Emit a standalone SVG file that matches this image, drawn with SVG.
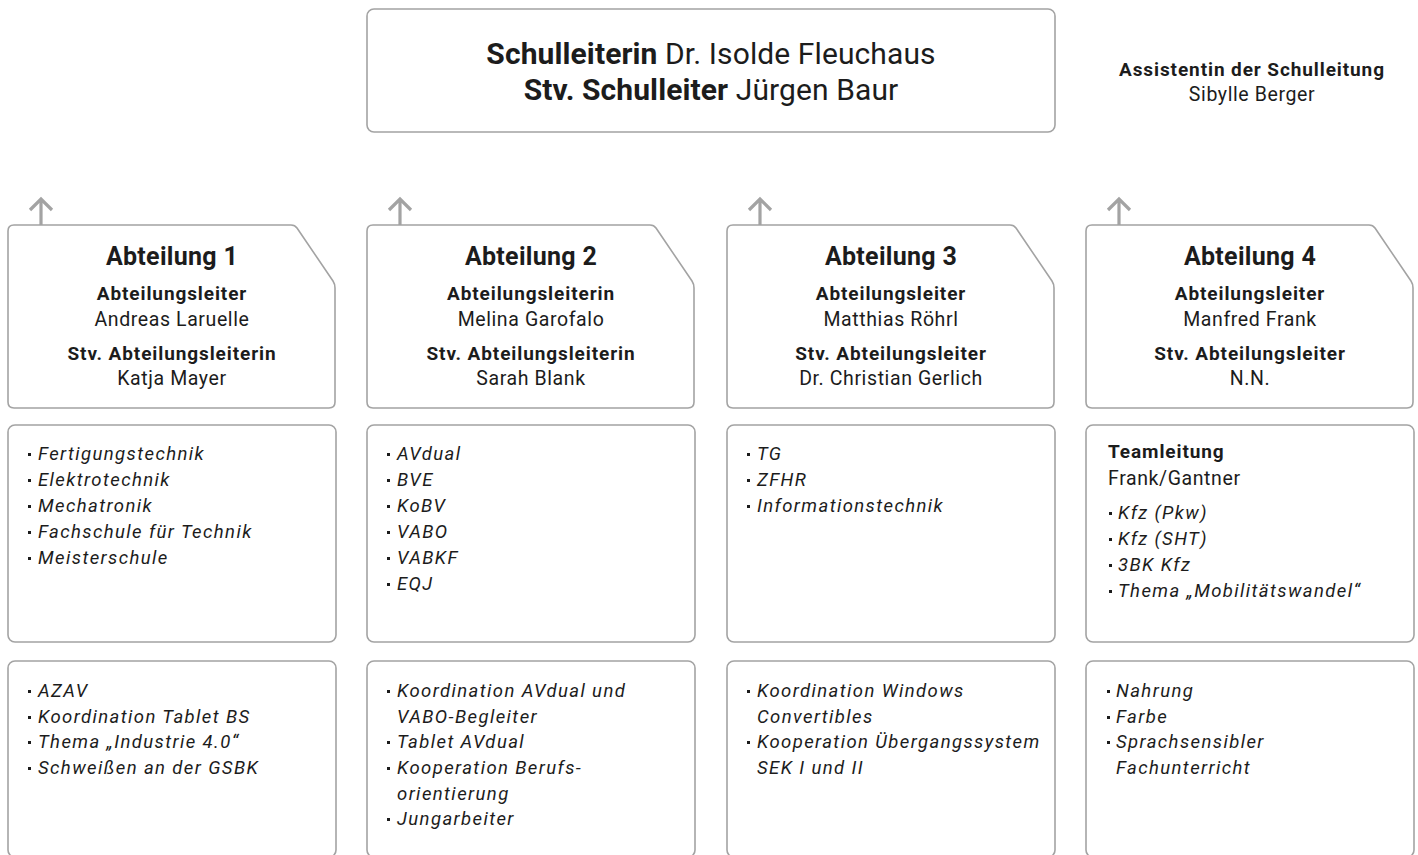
<svg xmlns="http://www.w3.org/2000/svg" width="1418" height="855" viewBox="0 0 1418 855">
<defs>
<style>
text{font-family:Roboto,"Liberation Sans",sans-serif;fill:#1c1c1c}
.box{fill:#fff;stroke:#a3a3a3;stroke-width:1.6}
.c{text-anchor:middle}
.h{font-size:25px;font-weight:700;letter-spacing:0.3px}
.lb{font-size:19px;font-weight:700;letter-spacing:0.9px}
.nm{font-size:19.5px;font-weight:400;letter-spacing:0.6px}
.it{font-size:18.5px;font-style:italic;letter-spacing:1.4px}
.t1{font-size:30px;letter-spacing:0.1px}
.b{font-weight:700}
.bul{fill:#1c1c1c}
.arr{fill:none;stroke:#a3a3a3;stroke-width:3.2}
</style>
<path id="dept" d="M14,225 H291 Q295,225 297,228 L333,281 Q335,284 335,288 V402 Q335,408 329,408 H14 Q8,408 8,402 V231 Q8,225 14,225 Z"/>
</defs>
<rect width="1418" height="855" fill="#fff"/>

<g id="leitung">
<rect class="box" x="367" y="9" width="688" height="123" rx="7"/>
<text class="t1 c" x="711" y="64"><tspan class="b">Schulleiterin</tspan> Dr. Isolde Fleuchaus</text>
<text class="t1 c" x="711" y="100"><tspan class="b">Stv. Schulleiter</tspan> Jürgen Baur</text>
</g>

<g id="assistenz">
<text class="lb c" x="1252" y="76">Assistentin der Schulleitung</text>
<text class="nm c" x="1252" y="101">Sibylle Berger</text>
</g>

<g id="connectors">
<path class="arr" d="M41,235 V199 M30,210 L41,199 L52,210"/>
<path class="arr" d="M400,235 V199 M389,210 L400,199 L411,210"/>
<path class="arr" d="M760,235 V199 M749,210 L760,199 L771,210"/>
<path class="arr" d="M1119,235 V199 M1108,210 L1119,199 L1130,210"/>
</g>

<g id="abt1">
<use href="#dept" class="box"/>
<text class="h c" x="172" y="265">Abteilung 1</text>
<text class="lb c" x="172" y="300">Abteilungsleiter</text>
<text class="nm c" x="172" y="326">Andreas Laruelle</text>
<text class="lb c" x="172" y="360">Stv. Abteilungsleiterin</text>
<text class="nm c" x="172" y="385">Katja Mayer</text>
</g>
<g id="abt2">
<use href="#dept" class="box" transform="translate(359,0)"/>
<text class="h c" x="531" y="265">Abteilung 2</text>
<text class="lb c" x="531" y="300">Abteilungsleiterin</text>
<text class="nm c" x="531" y="326">Melina Garofalo</text>
<text class="lb c" x="531" y="360">Stv. Abteilungsleiterin</text>
<text class="nm c" x="531" y="385">Sarah Blank</text>
</g>
<g id="abt3">
<use href="#dept" class="box" transform="translate(719,0)"/>
<text class="h c" x="891" y="265">Abteilung 3</text>
<text class="lb c" x="891" y="300">Abteilungsleiter</text>
<text class="nm c" x="891" y="326">Matthias Röhrl</text>
<text class="lb c" x="891" y="360">Stv. Abteilungsleiter</text>
<text class="nm c" x="891" y="385">Dr. Christian Gerlich</text>
</g>
<g id="abt4">
<use href="#dept" class="box" transform="translate(1078,0)"/>
<text class="h c" x="1250" y="265">Abteilung 4</text>
<text class="lb c" x="1250" y="300">Abteilungsleiter</text>
<text class="nm c" x="1250" y="326">Manfred Frank</text>
<text class="lb c" x="1250" y="360">Stv. Abteilungsleiter</text>
<text class="nm c" x="1250" y="385">N.N.</text>
</g>

<g id="bereiche1">
<rect class="box" x="8" y="425" width="328" height="217" rx="7"/>
<rect class="bul" x="28" y="453" width="3" height="3"/><text class="it" x="38" y="460">Fertigungstechnik</text>
<rect class="bul" x="28" y="479" width="3" height="3"/><text class="it" x="38" y="486">Elektrotechnik</text>
<rect class="bul" x="28" y="505" width="3" height="3"/><text class="it" x="38" y="512">Mechatronik</text>
<rect class="bul" x="28" y="531" width="3" height="3"/><text class="it" x="38" y="538">Fachschule für Technik</text>
<rect class="bul" x="28" y="557" width="3" height="3"/><text class="it" x="38" y="564">Meisterschule</text>
</g>
<g id="bereiche2">
<rect class="box" x="367" y="425" width="328" height="217" rx="7"/>
<rect class="bul" x="387" y="453" width="3" height="3"/><text class="it" x="397" y="460">AVdual</text>
<rect class="bul" x="387" y="479" width="3" height="3"/><text class="it" x="397" y="486">BVE</text>
<rect class="bul" x="387" y="505" width="3" height="3"/><text class="it" x="397" y="512">KoBV</text>
<rect class="bul" x="387" y="531" width="3" height="3"/><text class="it" x="397" y="538">VABO</text>
<rect class="bul" x="387" y="557" width="3" height="3"/><text class="it" x="397" y="564">VABKF</text>
<rect class="bul" x="387" y="583" width="3" height="3"/><text class="it" x="397" y="590">EQJ</text>
</g>
<g id="bereiche3">
<rect class="box" x="727" y="425" width="328" height="217" rx="7"/>
<rect class="bul" x="747" y="453" width="3" height="3"/><text class="it" x="757" y="460">TG</text>
<rect class="bul" x="747" y="479" width="3" height="3"/><text class="it" x="757" y="486">ZFHR</text>
<rect class="bul" x="747" y="505" width="3" height="3"/><text class="it" x="757" y="512">Informationstechnik</text>
</g>
<g id="bereiche4">
<rect class="box" x="1086" y="425" width="328" height="217" rx="7"/>
<text class="lb" x="1108" y="458">Teamleitung</text>
<text class="nm" x="1108" y="485">Frank/Gantner</text>
<rect class="bul" x="1109" y="512" width="3" height="3"/><text class="it" x="1118" y="519">Kfz (Pkw)</text>
<rect class="bul" x="1109" y="538" width="3" height="3"/><text class="it" x="1118" y="545">Kfz (SHT)</text>
<rect class="bul" x="1109" y="564" width="3" height="3"/><text class="it" x="1118" y="571">3BK Kfz</text>
<rect class="bul" x="1109" y="590" width="3" height="3"/><text class="it" x="1118" y="597">Thema „Mobilitätswandel“</text>
</g>

<g id="aufgaben1">
<rect class="box" x="8" y="661" width="328" height="196" rx="7"/>
<rect class="bul" x="28" y="690" width="3" height="3"/><text class="it" x="38" y="697">AZAV</text>
<rect class="bul" x="28" y="716" width="3" height="3"/><text class="it" x="38" y="723">Koordination Tablet BS</text>
<rect class="bul" x="28" y="741" width="3" height="3"/><text class="it" x="38" y="748">Thema „Industrie 4.0“</text>
<rect class="bul" x="28" y="767" width="3" height="3"/><text class="it" x="38" y="774">Schweißen an der GSBK</text>
</g>
<g id="aufgaben2">
<rect class="box" x="367" y="661" width="328" height="196" rx="7"/>
<rect class="bul" x="387" y="690" width="3" height="3"/><text class="it" x="397" y="697">Koordination AVdual und</text>
<text class="it" x="397" y="723">VABO-Begleiter</text>
<rect class="bul" x="387" y="741" width="3" height="3"/><text class="it" x="397" y="748">Tablet AVdual</text>
<rect class="bul" x="387" y="767" width="3" height="3"/><text class="it" x="397" y="774">Kooperation Berufs-</text>
<text class="it" x="397" y="800">orientierung</text>
<rect class="bul" x="387" y="818" width="3" height="3"/><text class="it" x="397" y="825">Jungarbeiter</text>
</g>
<g id="aufgaben3">
<rect class="box" x="727" y="661" width="328" height="196" rx="7"/>
<rect class="bul" x="747" y="690" width="3" height="3"/><text class="it" x="757" y="697">Koordination Windows</text>
<text class="it" x="757" y="723">Convertibles</text>
<rect class="bul" x="747" y="741" width="3" height="3"/><text class="it" x="757" y="748">Kooperation Übergangssystem</text>
<text class="it" x="757" y="774">SEK I und II</text>
</g>
<g id="aufgaben4">
<rect class="box" x="1086" y="661" width="328" height="196" rx="7"/>
<rect class="bul" x="1107" y="690" width="3" height="3"/><text class="it" x="1116" y="697">Nahrung</text>
<rect class="bul" x="1107" y="716" width="3" height="3"/><text class="it" x="1116" y="723">Farbe</text>
<rect class="bul" x="1107" y="741" width="3" height="3"/><text class="it" x="1116" y="748">Sprachsensibler</text>
<text class="it" x="1116" y="774">Fachunterricht</text>
</g>
</svg>
